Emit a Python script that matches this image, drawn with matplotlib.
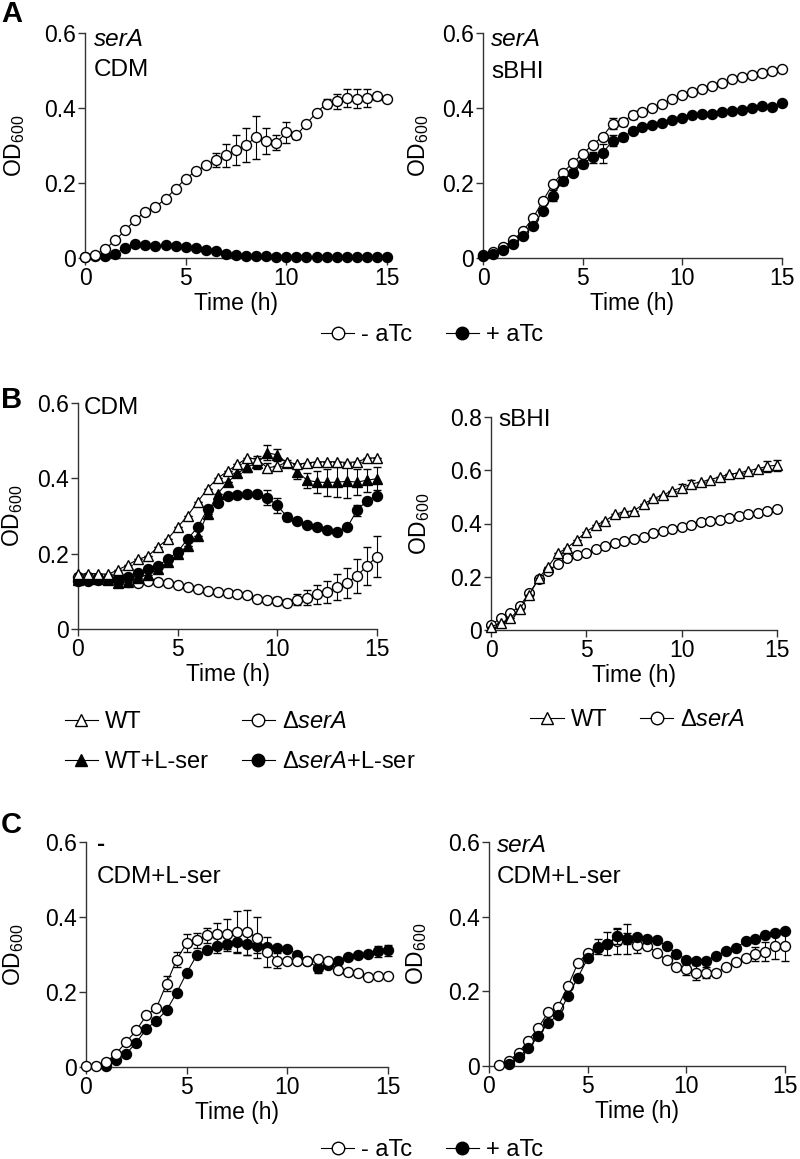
import numpy as np
import matplotlib
matplotlib.use("Agg")
import matplotlib.pyplot as plt
from matplotlib.lines import Line2D

plt.rcParams['font.family'] = ['Liberation Sans', 'DejaVu Sans']
plt.rcParams['mathtext.fontset'] = 'custom'
plt.rcParams['mathtext.rm'] = 'Liberation Sans'
plt.rcParams['mathtext.it'] = 'Liberation Sans:italic'
plt.rcParams['mathtext.bf'] = 'Liberation Sans:bold'

nan = np.nan
# --- data (OD600, one value every 0.5 h) ---
hours = [0, 0.5, 1, 1.5, 2, 2.5, 3, 3.5, 4, 4.5, 5, 5.5, 6, 6.5, 7, 7.5,
         8, 8.5, 9, 9.5, 10, 10.5, 11, 11.5, 12, 12.5, 13, 13.5, 14, 14.5, 15]

# A: serA CDM
a_cdm_minus = [0.004, 0.009, 0.024, 0.047, 0.074, 0.102, 0.123, 0.136, 0.158, 0.184, 0.212, 0.231,
               0.247, 0.262, 0.274, 0.289, 0.302, 0.322, 0.313, 0.307, 0.335, 0.327, 0.358, 0.388,
               0.412, 0.418, 0.427, 0.425, 0.427, 0.431, 0.425]
a_cdm_minus_err = [0, 0, 0, 0, 0, 0, 0, 0, 0, 0, 0, 0, 0, 0.018, 0.03, 0.04, 0.045, 0.058, 0.035, 0.02,
                   0.027, 0.01, 0, 0, 0.012, 0.02, 0.025, 0.025, 0.025, 0.01, 0]
a_cdm_plus = [0.003, 0.005, 0.006, 0.012, 0.027, 0.037, 0.034, 0.031, 0.036, 0.033, 0.029, 0.027,
              0.022, 0.018, 0.012, 0.009, 0.006, 0.005, 0.005, 0.004, 0.004, 0.004, 0.004, 0.004,
              0.004, 0.004, 0.004, 0.004, 0.004, 0.004, 0.004]

# A: serA sBHI
a_bhi_minus = [0.009, 0.016, 0.03, 0.047, 0.072, 0.106, 0.152, 0.197, 0.228, 0.253, 0.278, 0.302,
               0.324, 0.358, 0.363, 0.381, 0.39, 0.401, 0.412, 0.423, 0.434, 0.443, 0.452, 0.459,
               0.467, 0.477, 0.482, 0.488, 0.494, 0.5, 0.505]
a_bhi_minus_err = [0, 0, 0, 0, 0, 0, 0, 0, 0, 0, 0, 0, 0, 0.015, 0.01, 0.01, 0, 0, 0, 0,
                   0, 0, 0, 0, 0, 0, 0, 0, 0, 0, 0]
a_bhi_plus = [0.005, 0.01, 0.022, 0.038, 0.058, 0.085, 0.125, 0.166, 0.206, 0.228, 0.251, 0.269,
              0.279, 0.313, 0.322, 0.338, 0.349, 0.356, 0.361, 0.367, 0.373, 0.381, 0.383, 0.385,
              0.389, 0.391, 0.394, 0.401, 0.405, 0.403, 0.414]
a_bhi_plus_err = [0, 0, 0, 0, 0, 0, 0, 0.015, 0.01, 0.01, 0.01, 0.015, 0.025, 0.015, 0.01, 0, 0, 0, 0, 0,
                  0, 0, 0, 0, 0, 0, 0, 0, 0, 0, 0]

# B: CDM
b_cdm_wt = [0.145, 0.147, 0.147, 0.145, 0.157, 0.17, 0.185, 0.193, 0.217, 0.239, 0.27, 0.301,
            0.337, 0.373, 0.4, 0.419, 0.437, 0.455, 0.45, 0.428, 0.432, 0.444, 0.437, 0.441,
            0.444, 0.444, 0.444, 0.442, 0.444, 0.453, 0.455]
b_cdm_wt_err = [0, 0, 0, 0, 0, 0, 0, 0, 0, 0, 0, 0, 0, 0, 0, 0, 0, 0, 0.01, 0.012,
                0, 0, 0, 0, 0, 0, 0, 0, 0, 0, 0]
b_cdm_wt_ser = [0.13, 0.132, 0.132, 0.13, 0.123, 0.125, 0.136, 0.144, 0.159, 0.177, 0.199, 0.221,
                0.248, 0.306, 0.359, 0.389, 0.413, 0.431, 0.44, 0.468, 0.462, 0.44, 0.417, 0.395,
                0.39, 0.389, 0.39, 0.392, 0.39, 0.395, 0.399]
b_cdm_wt_ser_err = [0, 0, 0, 0, 0, 0, 0, 0, 0, 0, 0, 0, 0, 0, 0, 0, 0, 0.015, 0.015, 0.02,
                    0.015, 0.01, 0.02, 0.02, 0.03, 0.035, 0.04, 0.045, 0.035, 0.03, 0.03]
b_cdm_del = [0.138, 0.137, 0.136, 0.134, 0.128, 0.126, 0.123, 0.127, 0.125, 0.121, 0.116, 0.111,
             0.105, 0.101, 0.098, 0.096, 0.094, 0.089, 0.08, 0.078, 0.074, 0.07, 0.078, 0.083,
             0.092, 0.098, 0.111, 0.123, 0.141, 0.168, 0.192]
b_cdm_del_err = [0, 0, 0, 0, 0, 0, 0, 0, 0, 0, 0, 0, 0, 0, 0, 0, 0, 0, 0, 0,
                 0.01, 0.01, 0.015, 0.02, 0.025, 0.03, 0.035, 0.04, 0.045, 0.05, 0.055]
b_cdm_del_ser = [0.127, 0.128, 0.13, 0.132, 0.132, 0.139, 0.15, 0.159, 0.168, 0.185, 0.205, 0.239,
                 0.27, 0.319, 0.335, 0.352, 0.357, 0.359, 0.359, 0.348, 0.328, 0.297, 0.288, 0.277,
                 0.272, 0.264, 0.257, 0.27, 0.315, 0.341, 0.353]
b_cdm_del_ser_err = [0, 0, 0, 0, 0, 0, 0, 0, 0, 0, 0, 0, 0, 0, 0, 0, 0, 0, 0, 0.02,
                     0.02, 0.01, 0, 0, 0, 0, 0, 0, 0.015, 0, 0]

# B: sBHI
b_bhi_wt = [0.0125, 0.025, 0.044, 0.078, 0.131, 0.194, 0.238, 0.288, 0.309, 0.338, 0.369, 0.394,
            0.41, 0.435, 0.444, 0.448, 0.473, 0.494, 0.506, 0.523, 0.535, 0.548, 0.556, 0.565,
            0.575, 0.585, 0.59, 0.598, 0.606, 0.615, 0.619]
b_bhi_wt_err = [0, 0, 0, 0, 0, 0, 0, 0, 0, 0, 0, 0, 0, 0, 0, 0, 0, 0, 0, 0,
                0.015, 0.015, 0, 0, 0, 0, 0, 0, 0, 0.02, 0.02]
b_bhi_del = [0.019, 0.044, 0.0625, 0.09, 0.1375, 0.19, 0.2225, 0.2475, 0.269, 0.281, 0.29, 0.3025,
             0.316, 0.325, 0.335, 0.341, 0.35, 0.3625, 0.3725, 0.381, 0.3875, 0.396, 0.404, 0.41,
             0.415, 0.4225, 0.4275, 0.434, 0.441, 0.4475, 0.454]

# C: no-guide CDM+L-ser
c_ctl_minus = [0.002, 0.003, 0.013, 0.036, 0.067, 0.098, 0.138, 0.158, 0.222, 0.286, 0.331, 0.338,
               0.351, 0.354, 0.356, 0.36, 0.36, 0.345, 0.308, 0.284, 0.282, 0.282, 0.282, 0.287,
               0.282, 0.26, 0.253, 0.251, 0.24, 0.244, 0.244]
c_ctl_minus_err = [0, 0, 0, 0, 0, 0, 0, 0, 0.02, 0.02, 0.025, 0.02, 0.02, 0.03, 0.04, 0.055, 0.06, 0.055,
                   0.04, 0.02, 0, 0, 0, 0, 0, 0, 0, 0, 0, 0, 0]
c_ctl_plus = [nan, nan, 0.003, 0.018, 0.036, 0.065, 0.102, 0.124, 0.151, 0.198, 0.251, 0.298,
              0.311, 0.323, 0.329, 0.333, 0.329, 0.323, 0.32, 0.317, 0.316, 0.3, 0.284, 0.265,
              0.271, 0.284, 0.293, 0.3, 0.302, 0.309, 0.311]
c_ctl_plus_err = [0, 0, 0, 0, 0, 0, 0, 0, 0, 0, 0, 0, 0, 0.02, 0.02, 0.025, 0.03, 0.02, 0, 0,
                  0, 0, 0, 0.015, 0, 0, 0, 0, 0, 0.015, 0.015]

# C: serA CDM+L-ser
c_ser_minus = [nan, 0.003, 0.013, 0.036, 0.068, 0.103, 0.144, 0.159, 0.214, 0.275, 0.304, 0.319,
               0.328, 0.334, 0.341, 0.324, 0.322, 0.304, 0.283, 0.266, 0.259, 0.25, 0.25, 0.25,
               0.264, 0.279, 0.288, 0.3, 0.306, 0.322, 0.322]
c_ser_minus_err = [0, 0, 0, 0, 0, 0, 0, 0, 0, 0, 0, 0.02, 0.03, 0.035, 0.04, 0.02, 0, 0, 0, 0,
                   0.015, 0.02, 0.015, 0, 0, 0, 0, 0.02, 0.025, 0.035, 0.04]
c_ser_plus = [nan, nan, 0.005, 0.025, 0.047, 0.08, 0.116, 0.136, 0.187, 0.237, 0.288, 0.315,
              0.328, 0.348, 0.341, 0.346, 0.341, 0.337, 0.322, 0.301, 0.285, 0.281, 0.281, 0.294,
              0.308, 0.315, 0.335, 0.341, 0.35, 0.357, 0.362]
c_ser_plus_err = [0, 0, 0, 0, 0, 0, 0, 0, 0, 0, 0, 0, 0, 0.02, 0.015, 0, 0, 0, 0, 0,
                  0, 0, 0, 0, 0, 0, 0, 0, 0, 0, 0]

W, H = 800, 1159
fig = plt.figure(figsize=(8, 11.59), dpi=100)

FS = 16.5      # tick labels / axis titles
FS_NOTE = 17.5 # strain / medium notes
FS_LEG = 17


def px_axes(x0, x1, ytop, ybot):
    return fig.add_axes([x0 / W, 1 - ybot / H, (x1 - x0) / W, (ybot - ytop) / H])


def ftext(x, y, s, **kw):
    fig.text(x / W, 1 - y / H, s, va='center', ha='left', **kw)


def style(ax, ymax, ystep, ylab_x):
    ax.set_xlim(0, 15)
    ax.set_ylim(0, ymax)
    ax.spines['top'].set_visible(False)
    ax.spines['right'].set_visible(False)
    for s in ['left', 'bottom']:
        ax.spines[s].set_linewidth(1.0)
        ax.spines[s].set_color('#333333')
    ax.set_xticks([0, 5, 10, 15])
    yt = np.arange(0, ymax + 1e-9, ystep)
    ax.set_yticks(yt)
    ax.set_yticklabels(['0'] + ['%.1f' % v for v in yt[1:]])
    ax.tick_params(direction='out', length=5, width=1.0, color='#333333', labelsize=FS, pad=1.5)
    ax.set_xlabel('Time (h)', fontsize=FS, labelpad=1.5)
    ax.set_ylabel('OD$_{600}$', fontsize=FS)
    # place the y title at a fixed pixel column (centre of the rotated text)
    x0 = ax.get_position().x0 * W
    wpx = ax.get_position().width * W
    ax.yaxis.label.set_va('center')
    ax.yaxis.set_label_coords((ylab_x - x0) / wpx, 0.5)


def series(ax, y, err, marker, filled, ms=7.2, z=3):
    y = np.array(y, dtype=float)
    e = np.array(err, dtype=float) if err is not None else None
    ax.errorbar(hours, y, yerr=e, color='black', lw=0.8, marker=marker, ms=ms,
                mfc='black' if filled else 'white', mec='black', mew=1.0,
                ecolor='black', elinewidth=0.8, capsize=3, capthick=0.8,
                clip_on=False, zorder=z)


# ---------- A ----------
ax = px_axes(85, 387, 33, 258)
series(ax, a_cdm_plus, None, 'o', True, z=3)
series(ax, a_cdm_minus, a_cdm_minus_err, 'o', False, z=4)
style(ax, 0.6, 0.2, 15)
ftext(94, 40, 'serA', fontsize=FS_NOTE, style='italic')
ftext(94, 70, 'CDM', fontsize=FS_NOTE)

ax = px_axes(483, 782, 33, 258)
series(ax, a_bhi_minus, a_bhi_minus_err, 'o', False, z=3)
series(ax, a_bhi_plus, a_bhi_plus_err, 'o', True, z=4)
style(ax, 0.6, 0.2, 419)
ftext(491, 40, 'serA', fontsize=FS_NOTE, style='italic')
ftext(491, 72, 'sBHI', fontsize=FS_NOTE)

# ---------- B ----------
ax = px_axes(78, 377, 403, 629)
series(ax, b_cdm_del, b_cdm_del_err, 'o', False, z=3)
series(ax, b_cdm_del_ser, b_cdm_del_ser_err, 'o', True, z=4)
series(ax, b_cdm_wt_ser, b_cdm_wt_ser_err, '^', True, ms=7, z=5)
series(ax, b_cdm_wt, b_cdm_wt_err, '^', False, ms=7, z=6)
style(ax, 0.6, 0.2, 13)
ftext(84, 408, 'CDM', fontsize=FS_NOTE)

ax = px_axes(491, 777, 417, 630)
series(ax, b_bhi_del, None, 'o', False, ms=7, z=3)
series(ax, b_bhi_wt, b_bhi_wt_err, '^', False, ms=6.5, z=4)
style(ax, 0.8, 0.2, 420)
ftext(498, 420, 'sBHI', fontsize=FS_NOTE)

# ---------- C ----------
ax = px_axes(86, 388, 842, 1067)
series(ax, c_ctl_plus, c_ctl_plus_err, 'o', True, z=3)
series(ax, c_ctl_minus, c_ctl_minus_err, 'o', False, z=4)
style(ax, 0.6, 0.2, 14)
ftext(97, 845, '-', fontsize=FS_NOTE, fontweight='bold')
ftext(97, 877, 'CDM+L-ser', fontsize=FS_NOTE)

ax = px_axes(489, 785, 842, 1066)
series(ax, c_ser_minus, c_ser_minus_err, 'o', False, z=3)
series(ax, c_ser_plus, c_ser_plus_err, 'o', True, z=4)
style(ax, 0.6, 0.2, 417)
ftext(497, 845, 'serA', fontsize=FS_NOTE, style='italic')
ftext(497, 877, 'CDM+L-ser', fontsize=FS_NOTE)

# ---------- panel letters ----------
ftext(1, 14, 'A', fontsize=21, fontweight='bold')
ftext(1, 400, 'B', fontsize=21, fontweight='bold')
ftext(1, 825, 'C', fontsize=21, fontweight='bold')


# ---------- legends ----------
def handle(marker, filled, ms=9):
    return Line2D([], [], color='black', lw=0.8, marker=marker, ms=ms,
                  mfc='black' if filled else 'white', mec='black', mew=1.0)


leg_kw = dict(frameon=False, fontsize=FS_LEG, handlelength=1.4, handletextpad=0.3,
              columnspacing=1.4, loc='center', borderpad=0, borderaxespad=0)

atc = [handle('o', False), handle('o', True)]
atc_lab = ['- aTc', '+ aTc']
fig.legend(atc, atc_lab, ncol=2, bbox_to_anchor=(432 / W, 1 - 335 / H), **leg_kw)
fig.legend(atc, atc_lab, ncol=2, bbox_to_anchor=(432 / W, 1 - 1150 / H), **leg_kw)

b4 = [handle('^', False), handle('^', True), handle('o', False), handle('o', True)]
b4_lab = ['WT', 'WT+L-ser', 'Δ$\\mathit{serA}$', 'Δ$\\mathit{serA}$+L-ser']
fig.legend(b4, b4_lab, ncol=2, bbox_to_anchor=(240 / W, 1 - 742 / H),
           labelspacing=0.75, **leg_kw)

b2 = [handle('^', False), handle('o', False)]
b2_lab = ['WT', 'Δ$\\mathit{serA}$']
fig.legend(b2, b2_lab, ncol=2, bbox_to_anchor=(638 / W, 1 - 720 / H), **leg_kw)

fig.savefig('out.png', dpi=100)
